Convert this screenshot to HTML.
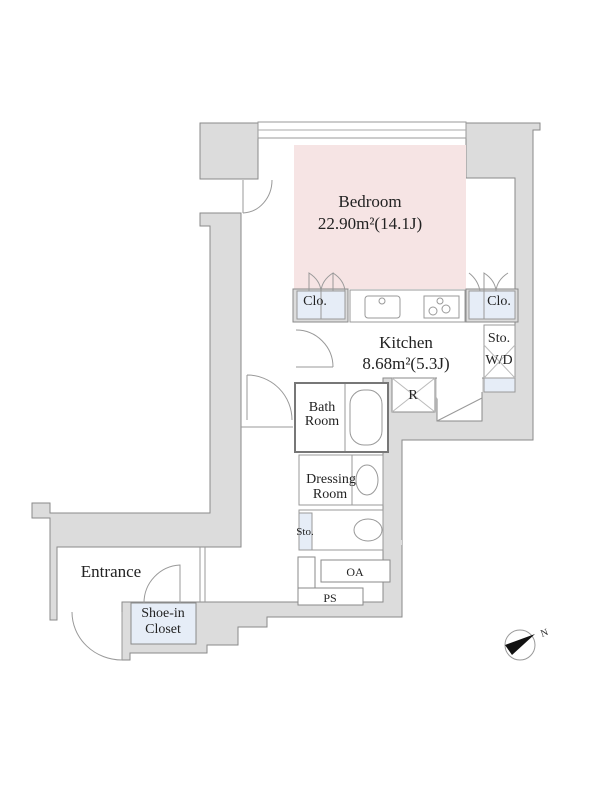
<!DOCTYPE html>
<html><head><meta charset="utf-8"><style>
html,body{margin:0;padding:0;background:#fff;}
svg{display:block}
text{font-family:"Liberation Serif",serif;fill:#222}
</style></head><body>
<svg width="600" height="800" viewBox="0 0 600 800" xmlns="http://www.w3.org/2000/svg">
<g fill="#dcdcdc" stroke="#8a8a8a" stroke-width="1">
<rect x="200" y="123" width="58" height="56"/>
<polygon points="200,213 241,213 241,547 57,547 57,620 50,620 50,518 32,518 32,503 50,503 50,513 210,513 210,226 200,226"/>
<polygon points="466,123 540,123 540,130 533,130 533,430 533,440 402,440 402,617 267,617 267,627 238,627 238,645 207,645 207,653 130,653 130,660 122,660 122,602 383,602 383,378 515,378 515,178 466,178"/>
</g>
<g fill="#fff" stroke="#8a8a8a" stroke-width="1">
<rect x="298" y="557" width="17" height="48"/>
<rect x="298" y="588" width="65" height="17"/>
<rect x="321" y="560" width="69" height="22"/>
<rect x="392" y="378" width="43" height="34"/>
<polygon points="437,398 482,398 482,421 437,421"/>
<rect x="131" y="603" width="65" height="41" fill="#e6edf7"/>
</g>
<rect x="437" y="377" width="45" height="21.5" fill="#fff"/>
<line x1="482" y1="392" x2="482" y2="398" stroke="#8a8a8a"/>
<line x1="435" y1="378" x2="437" y2="378" stroke="#8a8a8a"/>
<rect x="383" y="540" width="19" height="5" fill="#dcdcdc"/>
<rect x="258" y="122" width="208" height="16" fill="#fff" stroke="#999"/>
<line x1="258" y1="130" x2="466" y2="130" stroke="#aaa"/>
<rect x="294" y="145" width="172" height="144" fill="#f6e4e4"/>
<rect x="293" y="289" width="55" height="33" fill="#dcdcdc" stroke="#8a8a8a"/>
<rect x="297" y="291" width="48" height="28" fill="#e6edf7" stroke="#999"/>
<line x1="321" y1="291" x2="321" y2="319" stroke="#999"/>
<rect x="466" y="289" width="52" height="33" fill="#dcdcdc" stroke="#8a8a8a"/>
<rect x="469" y="291" width="46" height="28" fill="#e6edf7" stroke="#999"/>
<line x1="484" y1="291" x2="484" y2="319" stroke="#999"/>
<rect x="350" y="290" width="115" height="32" fill="#fff" stroke="#999"/>
<rect x="365" y="296" width="35" height="22" rx="3" fill="#fff" stroke="#999"/>
<circle cx="382" cy="301" r="3" fill="none" stroke="#999"/>
<rect x="424" y="296" width="35" height="22" fill="#fff" stroke="#999"/>
<circle cx="433" cy="311" r="4" fill="none" stroke="#999"/><circle cx="446" cy="309" r="4" fill="none" stroke="#999"/><circle cx="440" cy="301" r="3" fill="none" stroke="#999"/>
<rect x="484" y="325" width="31" height="67" fill="#fff" stroke="#999"/>
<rect x="484" y="378" width="31" height="14" fill="#e6edf7" stroke="#999"/>
<line x1="484" y1="345" x2="515" y2="378" stroke="#bbb"/><line x1="515" y1="345" x2="484" y2="378" stroke="#bbb"/>
<line x1="392" y1="378" x2="435" y2="412" stroke="#bbb"/><line x1="435" y1="378" x2="392" y2="412" stroke="#bbb"/>
<line x1="437" y1="421" x2="482" y2="398" stroke="#999"/>
<rect x="295" y="383" width="93" height="69" fill="#fff" stroke="#777" stroke-width="2"/>
<line x1="345" y1="384" x2="345" y2="451" stroke="#999"/>
<rect x="350" y="390" width="32" height="55" rx="14" fill="none" stroke="#999"/>
<rect x="299" y="455" width="84" height="50" fill="#fff" stroke="#999"/>
<line x1="352" y1="455" x2="352" y2="505" stroke="#999"/>
<ellipse cx="367" cy="480" rx="11" ry="15" fill="none" stroke="#999"/>
<rect x="299" y="510" width="84" height="40" fill="#fff" stroke="#999"/>
<rect x="299" y="513" width="13" height="37" fill="#e6edf7" stroke="#999"/>
<ellipse cx="368" cy="530" rx="14" ry="11" fill="none" stroke="#999"/>
<g fill="none" stroke="#999">
<path d="M243 180 L243 213 M272 180 A30 33 0 0 1 243 213"/>
<path d="M296 330 A37 37 0 0 1 333 367 M296 367 L333 367"/>
<path d="M247 375 L247 420 M247 375 A45 45 0 0 1 292 420"/>
<line x1="241" y1="427" x2="293" y2="427"/>
<path d="M72 612 A50 48 0 0 0 122 660 M122 612 L122 660"/>
<path d="M144 603 A38 38 0 0 1 180 565 L180 603"/>
<line x1="200" y1="547" x2="200" y2="602"/><line x1="205" y1="547" x2="205" y2="602"/>
<path d="M309 291 L309 273 Q320 280 321 291 M333 291 L333 273 Q322 280 321 291 M333 273 Q344 280 345 291"/>
<path d="M484 291 L484 273 Q495 280 496 291 M508 273 Q497 280 496 291 M469 273 Q478 280 480 291"/>
</g>
<g font-size="17" text-anchor="middle">
<text x="370" y="207">Bedroom</text>
<text x="370" y="229">22.90m²(14.1J)</text>
<text x="406" y="348">Kitchen</text>
<text x="406" y="369">8.68m²(5.3J)</text>
<text x="111" y="577" font-size="17">Entrance</text>
</g>
<g font-size="14" text-anchor="middle">
<text x="322" y="411">Bath</text><text x="322" y="425">Room</text>
<text x="331" y="483">Dressing</text><text x="330" y="498">Room</text>
<text x="163" y="617">Shoe-in</text><text x="163" y="633">Closet</text>
<text x="315" y="305">Clo.</text><text x="499" y="305">Clo.</text>
<text x="499" y="342">Sto.</text><text x="499" y="364">W/D</text>
<text x="413" y="399">R</text>
<text x="355" y="576" font-size="12">OA</text>
<text x="330" y="602" font-size="12">PS</text>
<text x="305" y="535" font-size="11">Sto.</text>
</g>
<circle cx="520" cy="645" r="15" fill="none" stroke="#999"/>
<polygon points="505,645 535,634 512,655" fill="#111"/>
<text x="542" y="637" font-size="10" transform="rotate(-20 542 637)">N</text>
</svg>
</body></html>
